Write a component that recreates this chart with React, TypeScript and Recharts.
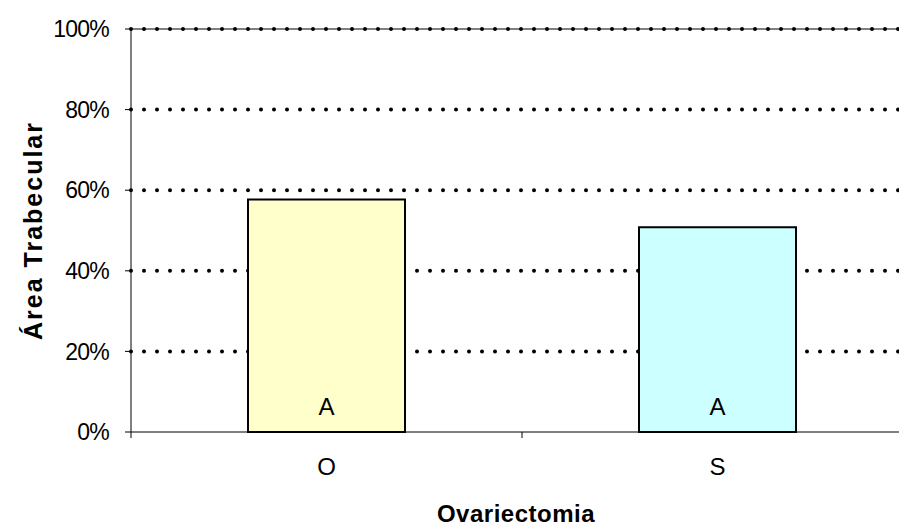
import { BarChart, Bar, XAxis, YAxis, CartesianGrid, ReferenceLine, Cell, LabelList, Label } from "recharts";

const categories = ["O", "S"];
const values = [0.577, 0.508];
const groupLetters = ["A", "A"];
const barColors = ["#FFFFCC", "#CCFFFF"];
const yTicks = [0, 0.2, 0.4, 0.6, 0.8, 1];

const data = categories.map((name, i) => ({ name, value: values[i], letter: groupLetters[i] }));

const FONT = "'Liberation Sans', Arial, sans-serif";
const CHART_W = 930;
const CHART_H = 527;
const MARGIN = { top: 29, right: 17, left: 0, bottom: 0 };
const Y_AXIS_W = 131;
const X_AXIS_H = 95;
const PLOT_BOTTOM = CHART_H - X_AXIS_H;
const BAND = (CHART_W - MARGIN.right - MARGIN.left - Y_AXIS_W) / categories.length;

const dottedLine = (props: any) => {
  const { x1, x2, y1 } = props;
  if (y1 >= PLOT_BOTTOM - 1) return <g key={props.key} />;
  return (
    <line
      key={props.key}
      x1={x1}
      x2={x2}
      y1={y1}
      y2={y1}
      stroke="#000"
      strokeWidth={4}
      strokeLinecap="round"
      strokeDasharray="0 13"
    />
  );
};

const CategoryTick = (props: any) => {
  const { x, payload } = props;
  const left = x - BAND / 2;
  return (
    <g>
      <line x1={left} x2={left} y1={PLOT_BOTTOM} y2={PLOT_BOTTOM + 6} stroke="#000" strokeWidth={1} />
      <text x={x} y={PLOT_BOTTOM + 43} textAnchor="middle" fontSize={24} fontFamily={FONT} fill="#000">
        {payload.value}
      </text>
    </g>
  );
};

const LetterLabel = (props: any) => {
  const { x, y, width, height, value } = props;
  return (
    <text x={x + width / 2} y={y + height - 17} textAnchor="middle" fontSize={24} fontFamily={FONT} fill="#000">
      {value}
    </text>
  );
};

const YTitle = (props: any) => {
  const { viewBox } = props;
  const cx = viewBox.x + 42;
  const cy = viewBox.y + viewBox.height / 2;
  return (
    <text
      x={cx}
      y={cy}
      transform={`rotate(-90 ${cx} ${cy})`}
      textAnchor="middle"
      fontSize={25}
      fontWeight="bold"
      letterSpacing={2}
      fontFamily={FONT}
      fill="#000"
    >
      Área Trabecular
    </text>
  );
};

const XTitle = () => (
  <text
    x={516}
    y={522}
    textAnchor="middle"
    fontSize={24}
    fontWeight="bold"
    letterSpacing={0.5}
    fontFamily={FONT}
    fill="#000"
  >
    Ovariectomia
  </text>
);

export default function App() {
  return (
    <div
      style={{
        position: "absolute",
        left: 0,
        top: 0,
        width: 899,
        height: 527,
        overflow: "hidden",
        background: "#fff",
      }}
    >
      <BarChart width={CHART_W} height={CHART_H} data={data} margin={MARGIN}>
        <CartesianGrid vertical={false} horizontal={dottedLine} />
        <XAxis
          dataKey="name"
          height={X_AXIS_H}
          axisLine={{ stroke: "#000", strokeWidth: 1 }}
          tickLine={false}
          tick={<CategoryTick />}
          interval={0}
        >
          <Label content={<XTitle />} />
        </XAxis>
        <YAxis
          width={Y_AXIS_W}
          domain={[0, 1]}
          ticks={yTicks}
          tickFormatter={(v: number) => `${Math.round(v * 100)}%`}
          tickSize={6}
          tickMargin={16}
          axisLine={{ stroke: "#000", strokeWidth: 1 }}
          tickLine={{ stroke: "#000", strokeWidth: 1 }}
          tick={{ fill: "#000", fontSize: 23, fontFamily: FONT, letterSpacing: -0.8 }}
        >
          <Label content={<YTitle />} />
        </YAxis>
        <ReferenceLine y={1} stroke="#000" strokeWidth={1} />
        <Bar dataKey="value" barSize={157} stroke="#000" strokeWidth={2} isAnimationActive={false}>
          {data.map((d, i) => (
            <Cell key={d.name} fill={barColors[i]} />
          ))}
          <LabelList dataKey="letter" content={<LetterLabel />} />
        </Bar>
      </BarChart>
    </div>
  );
}
